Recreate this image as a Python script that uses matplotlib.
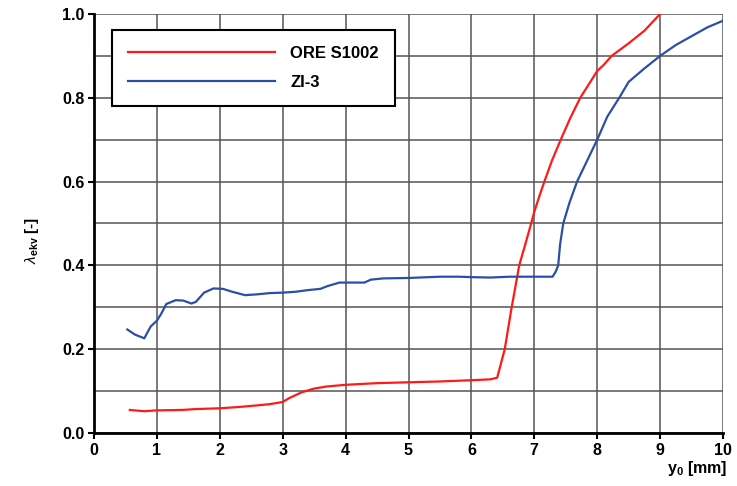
import numpy as np
import matplotlib
matplotlib.use("Agg")
import matplotlib.pyplot as plt

plt.rcParams['font.family'] = ['Liberation Sans', 'DejaVu Sans']
plt.rcParams['mathtext.fontset'] = 'custom'
plt.rcParams['mathtext.rm'] = 'Liberation Sans'
plt.rcParams['mathtext.bf'] = 'Liberation Sans:bold'
plt.rcParams['mathtext.it'] = 'Liberation Sans:italic'

# ORE S1002
red_x = [0.57, 0.8, 1.0, 1.4, 1.6, 2.0, 2.3, 2.6, 2.8, 3.0, 3.1, 3.3, 3.5, 3.7,
         4.0, 4.5, 5.0, 5.5, 6.0, 6.3, 6.41, 6.53, 6.64, 6.69, 6.76, 6.86, 6.95,
         7.0, 7.08, 7.16, 7.28, 7.42, 7.57, 7.73, 7.87, 8.0, 8.1, 8.23, 8.5,
         8.75, 9.0]
red_y = [0.055, 0.052, 0.054, 0.055, 0.057, 0.059, 0.062, 0.066, 0.069, 0.074,
         0.083, 0.097, 0.106, 0.111, 0.115, 0.119, 0.121, 0.123, 0.126, 0.128,
         0.132, 0.2, 0.3, 0.341, 0.4, 0.452, 0.5, 0.528, 0.565, 0.6, 0.65, 0.7,
         0.751, 0.8, 0.833, 0.864, 0.878, 0.9, 0.93, 0.96, 1.0]

# ZI-3
blue_x = [0.53, 0.65, 0.80, 0.9, 1.0, 1.07, 1.15, 1.3, 1.42, 1.55, 1.62, 1.75,
          1.9, 2.05, 2.2, 2.4, 2.6, 2.8, 3.0, 3.2, 3.4, 3.6, 3.7, 3.9, 4.1, 4.3,
          4.4, 4.6, 5.0, 5.5, 5.8, 6.0, 6.3, 6.6, 7.0, 7.29, 7.34, 7.38, 7.41,
          7.46, 7.56, 7.68, 7.84, 8.0, 8.16, 8.35, 8.5, 8.75, 9.0, 9.25, 9.5,
          9.75, 10.0]
blue_y = [0.247, 0.235, 0.226, 0.254, 0.268, 0.285, 0.308, 0.317, 0.316, 0.309,
          0.313, 0.335, 0.345, 0.344, 0.337, 0.329, 0.331, 0.334, 0.335, 0.337,
          0.341, 0.344, 0.35, 0.359, 0.359, 0.359, 0.366, 0.369, 0.37, 0.373,
          0.373, 0.372, 0.371, 0.373, 0.373, 0.373, 0.385, 0.4, 0.45, 0.5, 0.55,
          0.6, 0.65, 0.7, 0.755, 0.8, 0.838, 0.87, 0.9, 0.926, 0.947, 0.968, 0.984]

fig = plt.figure(figsize=(7.37, 4.86), dpi=100)
ax = fig.add_axes([94 / 737, 1 - 433 / 486, (723 - 94) / 737, (433 - 14) / 486])

ax.plot(red_x, red_y, color='#ff1a1a', lw=1.6, label='ORE S1002', zorder=3)
ax.plot(blue_x, blue_y, color='#2b4ea6', lw=1.6, label='ZI-3', zorder=3)

ax.set_xlim(0, 10)
ax.set_ylim(0, 1.0)
ax.set_xticks(np.arange(0, 11, 1))
ax.set_yticks(np.arange(0, 1.01, 0.2))
ax.set_yticks(np.arange(0.1, 1.0, 0.2), minor=True)
ax.set_yticklabels([f'{v:.1f}' for v in np.arange(0, 1.01, 0.2)])
ax.grid(True, which='both', color='#555555', lw=1.1)
ax.set_axisbelow(True)
for s in ['top', 'right']:
    ax.spines[s].set_visible(False)
for s in ['left', 'bottom']:
    ax.spines[s].set_linewidth(2)
    ax.spines[s].set_zorder(4)
ax.tick_params(axis='both', which='major', direction='out', length=4, width=1.5,
               labelsize=11.5, pad=3)
ax.tick_params(axis='y', which='minor', length=0)
for lab in ax.get_xticklabels() + ax.get_yticklabels():
    lab.set_fontweight('bold')

leg = ax.legend(loc='upper left', bbox_to_anchor=(0.0290, 0.962), frameon=True,
                fancybox=False, framealpha=1, edgecolor='black',
                prop={'weight': 'bold', 'size': 12}, handlelength=8.8,
                handletextpad=0.9, borderpad=0.97, labelspacing=0.82,
                borderaxespad=0)
leg.get_frame().set_linewidth(1.5)

fig.text(32 / 737, 1 - 240 / 486, r'$\lambda_{\mathbf{ekv}}$ [-]', rotation=90,
         ha='center', va='center', fontsize=11, fontweight='bold')
fig.text(727 / 737, 1 - 468 / 486, r'$\mathbf{y_0}$ [mm]', ha='right',
         va='center', fontsize=11.5, fontweight='bold')

fig.savefig('out.png', dpi=100)
